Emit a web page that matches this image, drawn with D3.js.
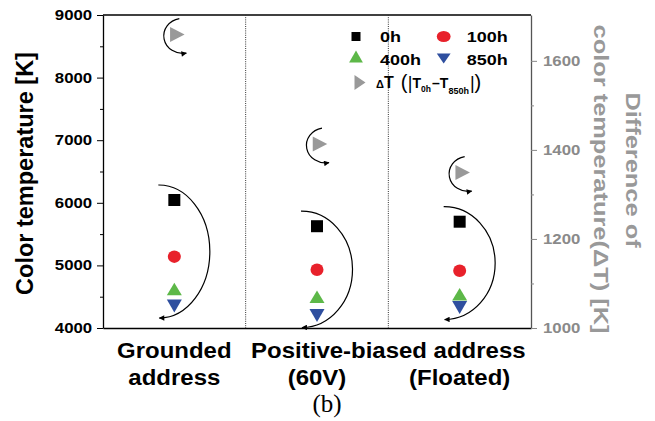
<!DOCTYPE html>
<html>
<head>
<meta charset="utf-8">
<script src="https://cdn.jsdelivr.net/npm/d3@7"></script>
<style>
  html, body { margin: 0; padding: 0; background: #fff; }
  svg { display: block; font-family: "Liberation Sans", Arial, Helvetica, sans-serif; }
</style>
</head>
<body>
<svg id="chart" width="655" height="421"></svg>
<script>
// ---- data ----
const categories = ["Grounded address", "Positive-biased address (60V)", "Positive-biased address (Floated)"];
const labelTop = ["Grounded", "", ""];
const labelBottom = ["address", "(60V)", "(Floated)"];
const sharedLabel = "Positive-biased address";   // spans the last two categories

const t0h   = [6045, 5626, 5698];
const t100h = [5140, 4930, 4914];
const t400h = [4623, 4500, 4538];
const t850h = [4350, 4200, 4327];
const deltaT = [1659, 1413, 1349];

const leftTicks  = [4000, 5000, 6000, 7000, 8000, 9000];
const leftMinor  = [4500, 5500, 6500, 7500, 8500];
const rightTicks = [1000, 1200, 1400, 1600];
const rightMinor = [1100, 1300, 1500];

const seriesNames  = ["0h", "100h", "400h", "850h"];
const seriesValues = [t0h, t100h, t400h, t850h];
const seriesColors = ["#000000", "#e8212b", "#5db848", "#2f4f9f"];
const seriesShapes = ["square", "circle", "up", "down"];
const deltaColor = "#999999";

// ---- layout ----
const M = { l: 103, r: 531, t: 15, b: 328 };
const svg = d3.select("#chart");

const x = d3.scaleBand().domain(d3.range(categories.length)).range([M.l, M.r]);
const cx = i => x(i) + x.bandwidth() / 2;
const yL = d3.scaleLinear().domain([4000, 9000]).range([M.b, M.t]);
const yR = d3.scaleLinear().domain([1000, 1703]).range([M.b, M.t]);

// symbol outlines centred on (0,0)
function shape(type, w, h) {
  switch (type) {
    case "square": return `M${-w/2},${-h/2}h${w}v${h}h${-w}Z`;
    case "circle": return `M${-w/2},0a${w/2},${h/2} 0 1,0 ${w},0a${w/2},${h/2} 0 1,0 ${-w},0Z`;
    case "up":     return `M0,${-h/2}L${w/2},${h/2}L${-w/2},${h/2}Z`;
    case "down":   return `M0,${h/2}L${w/2},${-h/2}L${-w/2},${-h/2}Z`;
    case "right":  return `M${w/2},0L${-w/2},${h/2}L${-w/2},${-h/2}Z`;
  }
}
const plotSize = { square: [12, 12], circle: [13, 12.5], up: [15, 12.5], down: [15, 13], right: [14.5, 15] };
const legendSize = { square: [7.5, 9], circle: [11.5, 11], up: [11.5, 12], down: [11.5, 10], right: [11, 15] };

// arrowheads
const defs = svg.append("defs");
defs.append("marker")
  .attr("id", "arrow").attr("viewBox", "0 0 10 10")
  .attr("refX", 9).attr("refY", 5)
  .attr("markerWidth", 8).attr("markerHeight", 5.5)
  .attr("markerUnits", "userSpaceOnUse").attr("orient", "auto")
  .append("path").attr("d", "M0,0L10,5L0,10Z").attr("fill", "#000");

// ---- frame ----
svg.append("line")
  .attr("x1", M.l).attr("x2", M.r).attr("y1", M.t).attr("y2", M.t)
  .attr("stroke", "#000").attr("stroke-width", 1.3);

// category separators
for (let i = 1; i < categories.length; i++) {
  svg.append("line")
    .attr("x1", x(i)).attr("x2", x(i)).attr("y1", M.t).attr("y2", M.b)
    .attr("stroke", "#333").attr("stroke-width", 1)
    .attr("stroke-dasharray", "1,1.2");
}

// bottom axis (line only; labels drawn below)
svg.append("g").attr("transform", `translate(0,${M.b})`)
  .call(d3.axisBottom(x).tickSize(0).tickSizeOuter(0).tickFormat(""))
  .call(g => g.select(".domain").attr("stroke", "#000").attr("stroke-width", 1.3));

// left axis
const gL = svg.append("g").attr("transform", `translate(${M.l},0)`)
  .call(d3.axisLeft(yL).tickValues(leftTicks).tickSize(6).tickSizeOuter(0).tickPadding(3).tickFormat(d3.format("d")));
gL.select(".domain").attr("stroke", "#000").attr("stroke-width", 1.3);
gL.selectAll(".tick line").attr("stroke", "#000").attr("stroke-width", 1);
gL.selectAll(".tick text")
  .attr("font-family", "'Liberation Sans', Arial, sans-serif")
  .attr("font-size", 14).attr("font-weight", "bold").attr("fill", "#000")
  .attr("transform", "scale(1.2,1)");
svg.append("g").attr("transform", `translate(${M.l},0)`)
  .call(d3.axisLeft(yL).tickValues(leftMinor).tickSize(3).tickFormat(""))
  .call(g => g.select(".domain").remove())
  .call(g => g.selectAll(".tick line").attr("stroke", "#000"));

// right axis (temperature difference)
const gR = svg.append("g").attr("transform", `translate(${M.r},0)`)
  .call(d3.axisRight(yR).tickValues(rightTicks).tickSize(6).tickSizeOuter(0).tickPadding(4).tickFormat(d3.format("d")));
gR.select(".domain").attr("stroke", "#555").attr("stroke-width", 1.3);
gR.selectAll(".tick line").attr("stroke", "#888").attr("stroke-width", 1);
gR.selectAll(".tick text")
  .attr("font-family", "'Liberation Sans', Arial, sans-serif")
  .attr("font-size", 14).attr("font-weight", "bold").attr("fill", "#8a8a8a")
  .attr("transform", "scale(1.2,1)");
svg.append("g").attr("transform", `translate(${M.r},0)`)
  .call(d3.axisRight(yR).tickValues(rightMinor).tickSize(3).tickFormat(""))
  .call(g => g.select(".domain").remove())
  .call(g => g.selectAll(".tick line").attr("stroke", "#888"));

// axis titles
svg.append("text")
  .attr("transform", `translate(33,173.5) rotate(-90)`)
  .attr("text-anchor", "middle").attr("font-size", 23.5).attr("font-weight", "bold").attr("fill", "#000")
  .text("Color temperature [K]");
svg.append("text")
  .attr("transform", `translate(626,170) rotate(90) scale(1.27,1)`)
  .attr("text-anchor", "middle").attr("font-size", 20).attr("font-weight", "bold").attr("fill", deltaColor)
  .text("Difference of");
svg.append("text")
  .attr("transform", `translate(594,179) rotate(90) scale(1.27,1)`)
  .attr("text-anchor", "middle").attr("font-size", 20).attr("font-weight", "bold").attr("fill", deltaColor)
  .text("color temperature(\u0394T) [K]");

// category labels
const catFont = 22, catScale = 1.09;
categories.forEach((c, i) => {
  [[labelTop[i], 358], [labelBottom[i], 385]].forEach(([t, yy]) => {
    if (!t) return;
    svg.append("text")
      .attr("transform", `translate(${cx(i)},${yy}) scale(${catScale},1)`)
      .attr("text-anchor", "middle").attr("font-size", catFont).attr("font-weight", "bold").attr("fill", "#000")
      .text(t);
  });
});
svg.append("text")
  .attr("transform", `translate(${x(2)},358) scale(${catScale},1)`)
  .attr("text-anchor", "middle").attr("font-size", catFont).attr("font-weight", "bold").attr("fill", "#000")
  .text(sharedLabel);

// panel caption
svg.append("text")
  .attr("x", 327).attr("y", 412).attr("text-anchor", "middle")
  .attr("font-family", "'Liberation Serif', 'Times New Roman', serif").attr("font-size", 25).attr("fill", "#000")
  .text("(b)");

// ---- trend arrows ----
const arcs = svg.append("g").attr("fill", "none").attr("stroke", "#000").attr("stroke-width", 1.2);
categories.forEach((c, i) => {
  // large arc: from 0h down to 850h
  const ys = yL(t0h[i]) - 15, ye = yL(t850h[i]) + 12;
  arcs.append("path")
    .attr("d", `M${cx(i) - 16},${ys}A51,${(ye - ys) / 2} 0 0 1 ${cx(i) - 15},${ye}`)
    .attr("marker-end", "url(#arrow)");
  // small arc around the difference marker
  const ds = yR(deltaT[i]) - 16, de = yR(deltaT[i]) + 18.5;
  arcs.append("path")
    .attr("d", `M${cx(i) + 5},${ds}A19,17.5 0 0 0 ${cx(i) + 12},${de}`)
    .attr("marker-end", "url(#arrow)");
});

// ---- markers ----
seriesValues.forEach((vals, s) => {
  const [w, h] = plotSize[seriesShapes[s]];
  svg.append("g").selectAll("path").data(vals).join("path")
    .attr("d", shape(seriesShapes[s], w, h))
    .attr("transform", (v, i) => `translate(${cx(i)},${yL(v)})`)
    .attr("fill", seriesColors[s]);
});
svg.append("g").selectAll("path").data(deltaT).join("path")
  .attr("d", shape("right", ...plotSize.right))
  .attr("transform", (v, i) => `translate(${cx(i) + 3},${yR(v)})`)
  .attr("fill", deltaColor);

// ---- legend ----
const legend = svg.append("g");
const legendPos = [[356, 36.5, 380, 41.5], [443.7, 36.5, 466.7, 41.5], [356, 56.5, 380, 64.5], [443.7, 58.5, 466.7, 64.5]];
seriesNames.forEach((name, s) => {
  const [sx, sy, tx, ty] = legendPos[s];
  const [w, h] = legendSize[seriesShapes[s]];
  legend.append("path")
    .attr("d", shape(seriesShapes[s], w, h))
    .attr("transform", `translate(${sx},${sy}) scale(1.2,1)`)
    .attr("fill", seriesColors[s]);
  legend.append("text")
    .attr("transform", `translate(${tx},${ty}) scale(1.2,1)`)
    .attr("font-size", 15).attr("font-weight", "bold").attr("fill", "#000")
    .text(name);
});
legend.append("path")
  .attr("d", shape("right", ...legendSize.right))
  .attr("transform", `translate(360,82.5)`)
  .attr("fill", deltaColor);
const dt = legend.append("text")
  .attr("x", 376).attr("y", 88.3).attr("font-weight", "bold").attr("fill", "#000");
dt.append("tspan").attr("font-size", 11).text("\u0394");
dt.append("tspan").attr("font-size", 16).text("T");
dt.append("tspan").attr("font-size", 20).attr("font-weight", "normal").attr("dx", 7).attr("dy", 1).text("(");
dt.append("tspan").attr("font-size", 18).attr("font-weight", "normal").attr("dx", 0.5).text("|");
dt.append("tspan").attr("font-size", 14).attr("dy", -1).text("T");
dt.append("tspan").attr("font-size", 8.5).attr("dy", 3.5).text("0h");
dt.append("tspan").attr("font-size", 14).attr("dx", 1).attr("dy", -3.5).text("\u2013T");
dt.append("tspan").attr("font-size", 9).attr("dy", 5.5).text("850h");
dt.append("tspan").attr("font-size", 18).attr("font-weight", "normal").attr("dx", 1).attr("dy", -4.5).text("|");
dt.append("tspan").attr("font-size", 20).attr("font-weight", "normal").text(")");
</script>
</body>
</html>
